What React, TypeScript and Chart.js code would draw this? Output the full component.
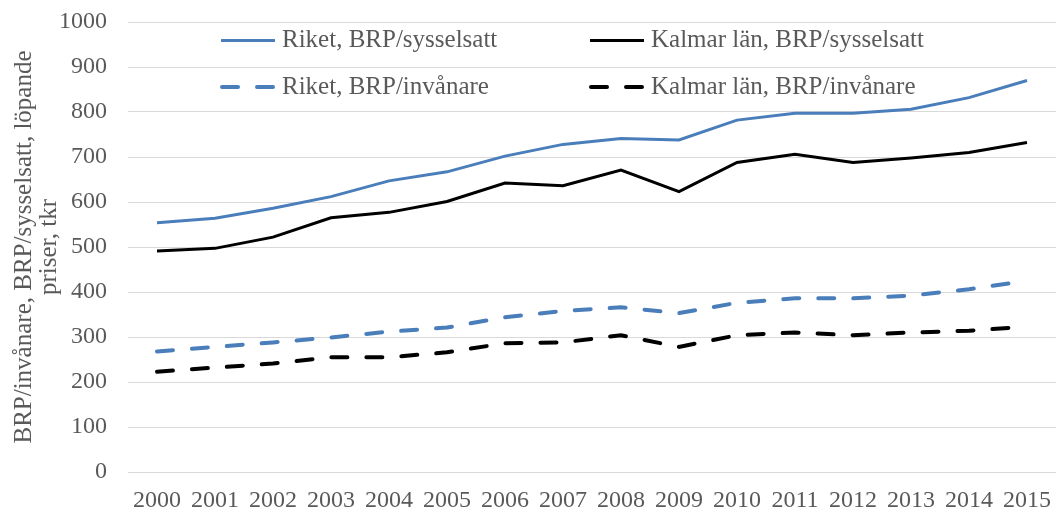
import React, { useEffect, useRef } from "react";
import { Chart, registerables } from "chart.js";

Chart.register(...registerables);

const years = ["2000", "2001", "2002", "2003", "2004", "2005", "2006", "2007", "2008", "2009", "2010", "2011", "2012", "2013", "2014", "2015"];
const riketSysselsatt = [554, 564, 586, 612, 647, 667, 702, 728, 741, 738, 782, 797, 797, 806, 832, 870];
const kalmarSysselsatt = [491, 497, 522, 565, 577, 601, 642, 636, 671, 623, 688, 706, 688, 698, 710, 732];
const riketInvanare = [268, 278, 288, 299, 312, 321, 344, 358, 366, 353, 376, 386, 386, 392, 406, 425];
const kalmarInvanare = [223, 232, 241, 255, 255, 266, 286, 288, 304, 278, 304, 310, 304, 310, 314, 323];

const seriesLabels = [
  "Riket, BRP/sysselsatt",
  "Kalmar län, BRP/sysselsatt",
  "Riket, BRP/invånare",
  "Kalmar län, BRP/invånare",
];
const yTitle = ["BRP/invånare, BRP/sysselsatt, löpande", "priser, tkr"];

const BLUE = "#4a7ebb";
const BLACK = "#000000";
const TEXT = "#595959";
const FONT = "'Liberation Serif', 'Times New Roman', serif";

const gridLegend = {
  id: "gridLegend",
  afterDraw(chart: any) {
    const ctx = chart.ctx;
    const cols = [221, 590];
    const rows = [40.5, 87];
    chart.data.datasets.forEach((ds: any, i: number) => {
      const x = cols[i % 2];
      const y = rows[Math.floor(i / 2)];
      ctx.save();
      ctx.strokeStyle = ds.borderColor;
      ctx.lineWidth = ds.borderWidth;
      const dashed = ds.borderDash && ds.borderDash.length;
      ctx.setLineDash(dashed ? ds.borderDash : []);
      ctx.lineCap = dashed ? "round" : "butt";
      ctx.beginPath();
      ctx.moveTo(dashed ? x + 1 : x, y);
      ctx.lineTo(dashed ? x + 52 : x + 54, y);
      ctx.stroke();
      ctx.setLineDash([]);
      ctx.fillStyle = TEXT;
      ctx.font = `25px ${FONT}`;
      ctx.textAlign = "left";
      ctx.textBaseline = "middle";
      ctx.fillText(ds.label, x + 61, y);
      ctx.restore();
    });
  },
};

export default function App() {
  const ref = useRef<HTMLCanvasElement | null>(null);

  useEffect(() => {
    if (!ref.current) return;
    const chart = new Chart(ref.current, {
      type: "line",
      data: {
        labels: years,
        datasets: [
          { label: seriesLabels[0], data: riketSysselsatt, borderColor: BLUE, backgroundColor: BLUE, borderWidth: 3 },
          { label: seriesLabels[1], data: kalmarSysselsatt, borderColor: BLACK, backgroundColor: BLACK, borderWidth: 3 },
          { label: seriesLabels[2], data: riketInvanare, borderColor: BLUE, backgroundColor: BLUE, borderWidth: 4, borderDash: [16, 19], borderCapStyle: "round" },
          { label: seriesLabels[3], data: kalmarInvanare, borderColor: BLACK, backgroundColor: BLACK, borderWidth: 4, borderDash: [16, 19], borderCapStyle: "round" },
        ] as any,
      },
      options: {
        animation: false,
        responsive: false,
        maintainAspectRatio: false,
        layout: { padding: { top: 22, left: 0, right: 0, bottom: 0 } },
        elements: { point: { radius: 0, hoverRadius: 0 }, line: { tension: 0 } },
        plugins: { legend: { display: false }, tooltip: { enabled: false }, title: { display: false } },
        scales: {
          x: {
            type: "category",
            offset: true,
            grid: { display: false, drawTicks: false },
            border: { display: false },
            ticks: { color: TEXT, font: { family: FONT, size: 24 }, padding: 14, maxRotation: 0, autoSkip: false },
            afterFit: (s: any) => {
              s.height = 41;
              s.paddingLeft = 0;
              s.paddingRight = 0;
            },
          },
          y: {
            min: 0,
            max: 1000,
            grid: { color: "#d9d9d9", lineWidth: 1, drawTicks: false },
            border: { display: false },
            ticks: {
              stepSize: 100,
              color: TEXT,
              font: { family: FONT, size: 24 },
              padding: 21,
              callback: (v: any) => String(v),
            },
            title: {
              display: true,
              text: yTitle,
              color: TEXT,
              font: { family: FONT, size: 25, lineHeight: 1.0 },
              padding: { top: 12, bottom: 0 },
            },
            afterFit: (s: any) => {
              s.width = 128;
              s.paddingTop = 0;
              s.paddingBottom = 0;
            },
          },
        },
      } as any,
      plugins: [gridLegend],
    });
    return () => chart.destroy();
  }, []);

  return (
    <div style={{ position: "fixed", left: 0, top: 0, width: 1056, height: 513, background: "#fff" }}>
      <canvas ref={ref} width={1056} height={513} style={{ display: "block" }} />
    </div>
  );
}
